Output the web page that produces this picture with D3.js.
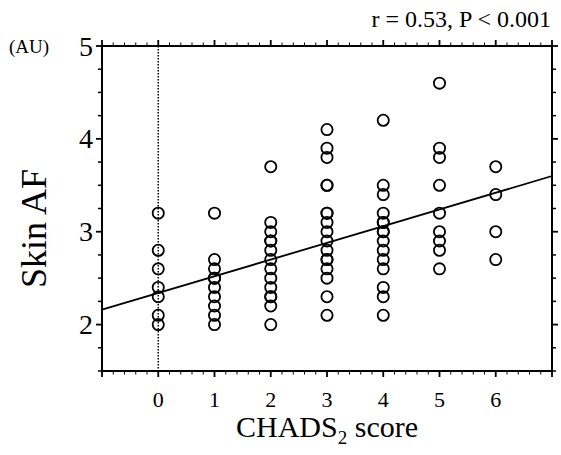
<!DOCTYPE html>
<html>
<head>
<meta charset="utf-8">
<script src="https://cdn.jsdelivr.net/npm/d3@7"></script>
<style>
  body { margin: 0; background: #fff; }
  text { font-family: "Liberation Serif", "DejaVu Serif", serif; fill: #000; }
</style>
</head>
<body>
<div id="chart"></div>
<script>
// CHADS2 score groups and the skin AF values read for each
const scores = [0, 1, 2, 3, 4, 5, 6];
const skinAF = [
    [3.2, 2.8, 2.6, 2.4, 2.3, 2.1, 2.0],
    [3.2, 2.7, 2.6, 2.5, 2.5, 2.4, 2.3, 2.2, 2.1, 2.0],
    [3.7, 3.1, 3.0, 2.9, 2.9, 2.8, 2.7, 2.6, 2.5, 2.4, 2.3, 2.3, 2.2, 2.0],
    [4.1, 3.9, 3.8, 3.5, 3.5, 3.2, 3.2, 3.1, 3.0, 2.9, 2.8, 2.7, 2.7, 2.6, 2.5, 2.3, 2.1],
    [4.2, 3.5, 3.4, 3.2, 3.1, 3.1, 3.0, 3.0, 2.9, 2.8, 2.7, 2.6, 2.4, 2.3, 2.1],
    [4.6, 3.9, 3.8, 3.5, 3.2, 3.0, 2.9, 2.8, 2.6],
    [3.7, 3.4, 3.0, 2.7]
];
// regression line end points
const fitX = [-1, 7];
const fitY = [2.16, 3.60];

const xTicks = [0, 1, 2, 3, 4, 5, 6];
const yTicks = [2, 3, 4, 5];

const width = 561, height = 455;
const margin = { top: 46, right: 9, bottom: 84, left: 102 };

const svg = d3.select("#chart")
    .append("svg")
    .attr("width", width)
    .attr("height", height);

const x = d3.scaleLinear().domain([-1, 7]).range([margin.left, width - margin.right]);
const y = d3.scaleLinear().domain([1.5, 5]).range([height - margin.bottom, margin.top]);

const x0 = x(-1), x1 = x(7), y0 = y(1.5), y1 = y(5);

// minor / major tick values
const xMinor = d3.range(-1, 7.001, 0.2).filter(v => Math.abs(v - Math.round(v)) > 0.01);
const xMajor = d3.range(-1, 8, 1);
const yMinor = d3.range(1.5, 5.001, 0.25).filter(v => Math.abs(v - Math.round(v)) > 0.01);
const yMajor = [2, 3, 4, 5];

const axes = svg.append("g").attr("stroke", "#000").attr("fill", "none");

// dotted reference at score 0
axes.append("line")
    .attr("x1", x(0)).attr("x2", x(0))
    .attr("y1", y1).attr("y2", y0)
    .attr("stroke-width", 1.5)
    .attr("stroke-dasharray", "1.5,1.5");

// frame
axes.append("rect")
    .attr("x", x0).attr("y", y1)
    .attr("width", x1 - x0).attr("height", y0 - y1)
    .attr("stroke-width", 2);

// bottom and top ticks (outward)
function xTickMarks(vals, len, sw) {
    vals.forEach(v => {
        axes.append("line").attr("x1", x(v)).attr("x2", x(v))
            .attr("y1", y0).attr("y2", y0 + len).attr("stroke-width", sw);
        axes.append("line").attr("x1", x(v)).attr("x2", x(v))
            .attr("y1", y1).attr("y2", y1 - len).attr("stroke-width", sw);
    });
}
xTickMarks(xMinor, 3.5, 1);
xTickMarks(xMajor, 6, 1.8);

// left and right ticks (outward)
function yTickMarks(vals, len, sw) {
    vals.forEach(v => {
        axes.append("line").attr("x1", x0 - len).attr("x2", x0)
            .attr("y1", y(v)).attr("y2", y(v)).attr("stroke-width", sw);
        axes.append("line").attr("x1", x1).attr("x2", x1 + len)
            .attr("y1", y(v)).attr("y2", y(v)).attr("stroke-width", sw);
    });
}
yTickMarks(yMinor, 4, 1.5);
yTickMarks(yMajor, 6, 1.8);

// tick labels
svg.append("g").selectAll("text")
    .data(xTicks)
    .enter()
    .append("text")
    .attr("x", d => x(d))
    .attr("y", y0 + 36)
    .style("font-size", "22px")
    .style("text-anchor", "middle")
    .text(d => d);

svg.append("g").selectAll("text")
    .data(yTicks)
    .enter()
    .append("text")
    .attr("x", x0 - 9)
    .attr("y", d => y(d))
    .attr("dy", "0.34em")
    .style("font-size", "28px")
    .style("text-anchor", "end")
    .text(d => d);

// regression line
svg.append("line")
    .attr("x1", x(fitX[0])).attr("y1", y(fitY[0]))
    .attr("x2", x(fitX[1])).attr("y2", y(fitY[1]))
    .attr("stroke", "#000")
    .attr("stroke-width", 1.8);

// points
const points = [];
skinAF.forEach((vals, i) => vals.forEach(v => points.push({ s: scores[i], v: v })));

svg.append("g").selectAll("circle")
    .data(points)
    .enter()
    .append("circle")
    .attr("cx", d => x(d.s))
    .attr("cy", d => y(d.v))
    .attr("r", 5.6)
    .attr("fill", "none")
    .attr("stroke", "#000")
    .attr("stroke-width", 1.8);

// labels
svg.append("text")
    .attr("x", 9)
    .attr("y", 53)
    .style("font-size", "19px")
    .text("(AU)");

svg.append("text")
    .attr("x", width - 10)
    .attr("y", 27)
    .style("font-size", "24px")
    .style("text-anchor", "end")
    .text("r = 0.53, P < 0.001");

svg.append("text")
    .attr("transform", `translate(46, ${(y0 + y1) / 2 + 20}) rotate(-90)`)
    .style("font-size", "36px")
    .style("text-anchor", "middle")
    .text("Skin AF");

const xl = svg.append("text")
    .attr("x", (x0 + x1) / 2)
    .attr("y", 437)
    .style("font-size", "30px")
    .style("text-anchor", "middle");
xl.append("tspan").text("CHADS");
xl.append("tspan").attr("dy", 7).style("font-size", "19px").text("2");
xl.append("tspan").attr("dy", -7).text(" score");
</script>
</body>
</html>
